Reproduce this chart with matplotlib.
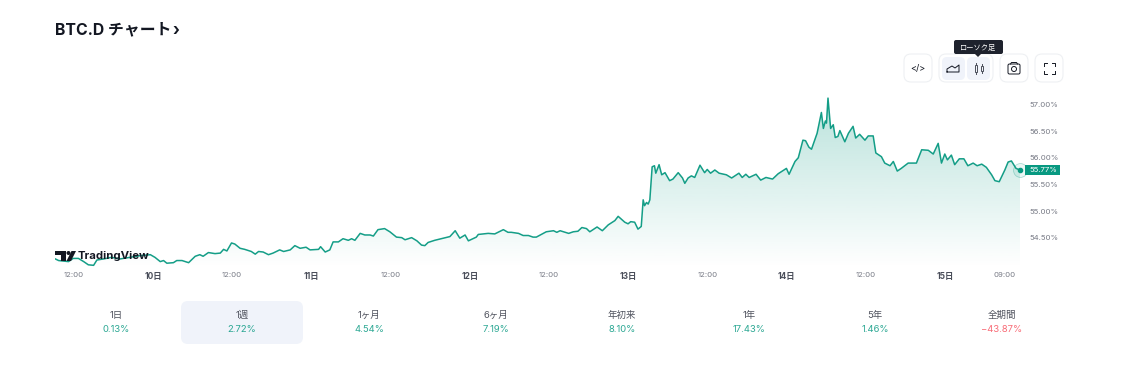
import numpy as np
import matplotlib
matplotlib.use('Agg')
import matplotlib.pyplot as plt
from matplotlib.patches import FancyBboxPatch, Polygon, Circle, Rectangle
from matplotlib.colors import LinearSegmentedColormap

plt.rcParams['font.family'] = ['Inter', 'Noto Sans CJK JP', 'DejaVu Sans']

# hours since the 10th 00:00
hours = [-14.8, -14.3, -13.6, -12.8, -12.1, -11.3, -10.5, -9.8, -9.0, -8.5, -7.5, -6.3, -5.0, -3.5, -2.0,
	-0.4, 0.3, 1.1, 1.6, 2.1, 3.1, 3.6, 4.4, 5.4, 6.4, 7.1, 7.6, 8.4, 9.4, 10.2, 10.7, 11.2, 11.9, 12.4,
	13.2, 13.9, 14.9, 15.5, 16.0, 16.7, 17.5, 18.2, 19.2, 19.8, 20.8, 21.5, 22.3, 23.2, 23.8, 25.1, 25.4,
	26.1, 26.8, 27.3, 28.1, 28.8, 29.6, 30.1, 30.6, 31.4, 32.1, 32.9, 33.4, 34.1, 35.1, 35.9, 36.9, 37.7,
	38.2, 39.2, 40.0, 40.7, 41.2, 41.7, 42.7, 43.7, 45.0, 45.8, 46.5, 47.3, 47.8, 49.0, 49.3, 50.0, 50.8,
	51.8, 53.1, 53.8, 54.3, 55.4, 56.1, 56.9, 57.6, 58.1, 59.6, 60.7, 61.2, 61.7, 63.0, 63.7, 64.4, 65.0,
	65.7, 66.2, 66.7, 67.3, 68.1, 69.0, 70.0, 70.5, 71.5, 72.0, 72.4, 73.0, 73.5, 74.0, 74.29, 74.5, 74.8,
	75.05, 75.3, 75.65, 76.0, 76.2, 76.7, 77.1, 77.6, 78.3, 78.8, 79.6, 80.25, 80.6, 81.1, 81.6, 82.1, 82.9,
	83.6, 84.0, 84.5, 85.15, 85.8, 86.9, 87.7, 88.8, 89.3, 89.85, 90.35, 91.4, 92.1, 92.9, 93.9, 94.75, 96.0,
	96.4, 97.3, 97.8, 98.5, 98.9, 99.4, 99.8, 100.65, 101.3, 101.6, 101.9, 102.07, 102.3, 102.7, 103.1,
	103.4, 103.8, 104.1, 104.85, 105.4, 106.1, 106.5, 107.1, 107.9, 108.4, 109.15, 109.55, 110.4, 110.9,
	111.7, 112.2, 112.8, 113.4, 114.45, 115.7, 116.5, 117.5, 118.25, 119.0, 119.5, 120.0, 120.4, 121.0,
	121.5, 122.2, 122.9, 123.5, 124.3, 124.9, 125.6, 126.3, 127.1, 127.6, 128.25, 129.1, 129.6, 130.1,
	130.8, 131.4]
btc_d = [54.10, 54.07, 54.06, 54.05, 54.11, 54.11, 54.05, 53.99, 53.98, 54.08, 54.10, 54.13, 54.10, 54.13, 54.16,
	54.18, 54.13, 54.05, 54.07, 54.02, 54.03, 54.07, 54.07, 54.03, 54.15, 54.18, 54.15, 54.22, 54.20, 54.21, 54.28, 54.25, 54.40, 54.38,
	54.30, 54.28, 54.24, 54.19, 54.24, 54.23, 54.18, 54.21, 54.27, 54.24, 54.27, 54.35, 54.30, 54.32, 54.27, 54.28, 54.33,
	54.23, 54.27, 54.42, 54.42, 54.48, 54.45, 54.48, 54.45, 54.58, 54.55, 54.55, 54.53, 54.65, 54.67, 54.61, 54.51, 54.50,
	54.46, 54.50, 54.44, 54.36, 54.35, 54.41, 54.45, 54.48, 54.52, 54.63, 54.49, 54.55, 54.44, 54.51, 54.56, 54.57, 54.58,
	54.57, 54.65, 54.60, 54.60, 54.58, 54.54, 54.54, 54.51, 54.51, 54.61, 54.63, 54.60, 54.63, 54.58, 54.61, 54.62, 54.69,
	54.67, 54.61, 54.65, 54.70, 54.63, 54.74, 54.82, 54.90, 54.79, 54.76, 54.80, 54.79, 54.66, 54.71, 55.21, 55.10, 55.16,
	55.13, 55.21, 55.83, 55.85, 55.71, 55.87, 55.68, 55.72, 55.57, 55.60, 55.72, 55.62, 55.52, 55.62, 55.66, 55.63, 55.86,
	55.72, 55.78, 55.71, 55.77, 55.71, 55.68, 55.62, 55.71, 55.63, 55.69, 55.63, 55.69, 55.58, 55.63, 55.60, 55.70, 55.80,
	55.69, 55.93, 56.00, 56.33, 56.32, 56.20, 56.16, 56.46, 56.85, 56.55, 56.69, 56.65, 57.12, 56.55, 56.62,
	56.38, 56.40, 56.51, 56.30, 56.46, 56.59, 56.37, 56.44, 56.33, 56.41, 56.41, 56.09, 56.02, 55.90,
	55.85, 55.93, 55.75, 55.80, 55.90, 55.90, 56.15, 56.14, 56.07, 56.27, 55.90, 56.07, 55.96, 56.05,
	55.87, 55.98, 55.98, 55.85, 55.90, 55.85, 55.88, 55.82, 55.68, 55.57, 55.55, 55.77, 55.92, 55.94,
	55.80, 55.77]

x_ticks = [-12, 0, 12, 24, 36, 48, 60, 72, 84, 96, 108, 120, 129]
x_labels = ['12:00', '10日', '12:00', '11日', '12:00', '12日', '12:00', '13日', '12:00', '14日', '12:00', '15日', '09:00']
y_ticks = [54.5, 55.0, 55.5, 56.0, 56.5, 57.0]
last_value = 55.77

periods = ['1日', '1週', '1ヶ月', '6ヶ月', '年初来', '1年', '5年', '全期間']
changes = ['0.13%', '2.72%', '4.54%', '7.19%', '8.10%', '17.43%', '1.46%', '−43.87%']

W, H = 1134, 386
GREEN = '#089981'
RED = '#f7525f'
GREY = '#787b86'
DARK = '#131722'

fig = plt.figure(figsize=(W / 100, H / 100), dpi=100, facecolor='white')

# chart axes, placed by pixel box
left, right, top, bottom = 55, 1020, 90, 268
ax = fig.add_axes([left / W, 1 - bottom / H, (right - left) / W, (bottom - top) / H])
for s in ax.spines.values():
	s.set_visible(False)
ax.patch.set_alpha(0)

# area gradient, clipped under the line
cmap = LinearSegmentedColormap.from_list('area', [(8 / 255, 153 / 255, 129 / 255, 0.0), (8 / 255, 153 / 255, 129 / 255, 0.28)])
grad = np.linspace(0, 1, 256).reshape(-1, 1)
img = ax.imshow(grad, origin='lower', aspect='auto', cmap=cmap, vmin=0, vmax=1,
	extent=[hours[0], hours[-1], 53.93, max(btc_d)], zorder=1)
poly = Polygon(list(zip(hours, btc_d)) + [(hours[-1], 53.93), (hours[0], 53.93)], closed=True, transform=ax.transData, fc='none', ec='none')
ax.add_patch(poly)
img.set_clip_path(poly)
ax.set_xlim(-14.85, 131.4)
ax.set_ylim(53.93, 57.272)

ax.plot(hours, btc_d, color=GREEN, lw=1.1, alpha=0.95, solid_joinstyle='round', zorder=3)
ax.scatter([hours[-1]], [btc_d[-1]], s=100, facecolor=(8 / 255, 153 / 255, 129 / 255, 0.08), edgecolor=(8 / 255, 153 / 255, 129 / 255, 0.3), lw=0.6, zorder=4, clip_on=False)
ax.scatter([hours[-1]], [btc_d[-1]], s=9, color=GREEN, zorder=5, clip_on=False)

ax.set_xticks(x_ticks)
ax.set_xticklabels(x_labels, fontsize=5.6, color=GREY)
for lab, t in zip(ax.get_xticklabels(), x_labels):
	if '日' in t:
		lab.set_fontweight('bold')
		lab.set_fontsize(6.0)
		lab.set_color('#4a4e5a')
ax.tick_params(axis='x', length=0, pad=3)
ax.yaxis.tick_right()
ax.set_yticks(y_ticks)
ax.set_yticklabels(['{:.2f}%'.format(v) for v in y_ticks], fontsize=5.6, color=GREY)
ax.tick_params(axis='y', length=0, pad=7)

# last price tag
tag = ax.get_yaxis_transform()
ax.add_patch(Rectangle((1.0052, last_value - 0.09), 0.0363, 0.18, transform=tag, fc=GREEN, ec='none', clip_on=False, zorder=6))
ax.text(1.0098, last_value, '{:.2f}%'.format(last_value), transform=tag, fontsize=5.6, color='white',
	va='center', ha='left', zorder=7)

# page overlay in pixel coordinates
ov = fig.add_axes([0, 0, 1, 1], zorder=5)
ov.set_xlim(0, W)
ov.set_ylim(H, 0)
ov.axis('off')

def rbox(x0, y0, x1, y1, r, fc, ec='none', lw=0.8):
	ov.add_patch(FancyBboxPatch((x0 + r, y0 + r), x1 - x0 - 2 * r, y1 - y0 - 2 * r, boxstyle='round,pad=%g,rounding_size=%g' % (r, r),
		fc=fc, ec=ec, lw=lw))

ov.text(55, 30, 'BTC.D チャート', fontsize=11.4, fontweight='bold', color=DARK, va='center', ha='left')
ov.text(172.5, 31, '›', fontsize=11.4, fontweight='bold', color=DARK, va='center', ha='left')

# toolbar
EDGE = '#eef0f3'
CHIP = '#f0f3fa'
rbox(904, 54, 932, 82, 7, 'white', EDGE)
rbox(939, 54, 993, 82, 7, 'white', EDGE)
rbox(942, 57, 965, 80, 5, CHIP)
rbox(967, 57, 990, 80, 5, CHIP)
rbox(1000, 54, 1028, 82, 7, 'white', EDGE)
rbox(1035, 54, 1063, 82, 7, 'white', EDGE)
ov.text(918, 68, '</>', fontsize=6.5, color=DARK, ha='center', va='center')

# area icon
ov.plot([947, 947, 952, 955, 959, 959, 947], [72, 69, 66, 68, 65, 72, 72], color=DARK, lw=0.7)
# candle icon
for cx, y0, y1, b0, b1 in [(976, 63, 74, 65, 72), (982, 64, 73, 66, 71)]:
	ov.plot([cx, cx], [y0, y1], color='#4a4e5a', lw=0.7)
	ov.add_patch(Rectangle((cx - 1.3, b0), 2.6, b1 - b0, fc=CHIP, ec='#4a4e5a', lw=0.7, zorder=3))
# camera icon
rbox(1008, 64, 1020, 74, 1.5, 'white', DARK, 0.7)
ov.add_patch(Circle((1014, 69), 2.5, fc='white', ec=DARK, lw=0.7))
ov.plot([1010.5, 1011.5, 1016.5, 1017.5], [64, 62.5, 62.5, 64], color=DARK, lw=0.7)
# fullscreen icon
for sx, sy in [(1, 1), (-1, 1), (1, -1), (-1, -1)]:
	cx, cy = 1049 - sx * 5.5, 68 - sy * 5.5
	ov.plot([cx + sx * 3, cx, cx], [cy, cy, cy + sy * 3], color=DARK, lw=0.7)

# tooltip
rbox(954, 40, 1003, 54, 2, '#1e222d')
ov.add_patch(Polygon([(975, 54), (981, 54), (978, 57)], closed=True, fc='#1e222d', ec='none'))
ov.text(978.5, 47, 'ローソク足', fontsize=5.2, color='white', ha='center', va='center')

# TradingView logo
ov.add_patch(Polygon([(55, 251), (66, 251), (66, 261), (61, 261), (61, 255), (55, 255)], closed=True, fc=DARK, ec='none'))
ov.add_patch(Circle((68.5, 253), 2.0, fc=DARK, ec='none'))
ov.add_patch(Polygon([(71.5, 251), (76, 251), (71, 261), (66.5, 261)], closed=True, fc=DARK, ec='none'))
ov.text(78, 256, 'TradingView', fontsize=8.2, fontweight='bold', color=DARK, va='center', ha='left')

# period table
rbox(181, 301, 303, 344, 7, CHIP)
table_x = [116, 242, 369, 496, 622, 749, 875, 1002]
for px, p, c in zip(table_x, periods, changes):
	ov.text(px, 315.5, p, fontsize=6.8, color='#50535e', ha='center', va='center')
	ov.text(px, 330, c, fontsize=6.8, color=RED if c.startswith('−') else GREEN, ha='center', va='center', alpha=0.85)

fig.savefig('out.png', dpi=100, facecolor='white')
